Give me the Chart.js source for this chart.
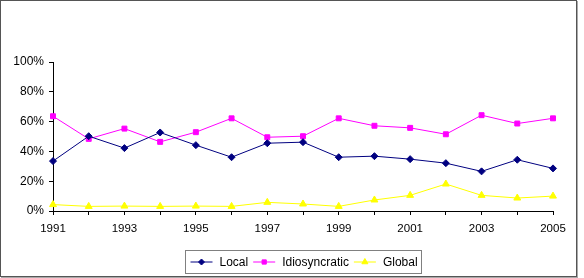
<!DOCTYPE html>
<html lang="en">
<head>
    <meta charset="UTF-8">
    <title>Local, Idiosyncratic and Global shares</title>
    <script src="https://cdn.jsdelivr.net/npm/chart.js"></script>
    <style>
        body {
            margin: 0;
            padding: 0;
            background: #fff;
        }

        .wrap {
            position: relative;
            width: 584px;
            height: 278px;
        }

        .frame {
            position: absolute;
            left: 0;
            top: 0;
            width: 575px;
            height: 275px;
            border: 1px solid #555;
            box-shadow: 1px 1px 0 #aaa;
            pointer-events: none;
        }
    </style>
</head>
<body>
    <div class="wrap">
        <canvas id="chart" width="584" height="278"></canvas>
        <div class="frame"></div>
    </div>

    <script>
        let years = ["1991", "1992", "1993", "1994", "1995", "1996", "1997", "1998",
                     "1999", "2000", "2001", "2002", "2003", "2004", "2005"];

        let local = [33.5, 50.2, 42.2, 52.7, 44.2, 36.1, 45.5, 46.2, 36.1, 36.8, 34.8, 32.1, 26.6, 34.4, 28.6];
        let idiosyncratic = [63.6, 48.4, 55.3, 46.4, 52.9, 62.2, 49.5, 50.2, 62.2, 57.2, 55.8, 51.5, 64.3, 58.7, 62.2];
        let global = [4.3, 3.1, 3.3, 3.1, 3.3, 3.1, 5.8, 4.7, 3.1, 7.4, 10.5, 18.1, 10.5, 8.7, 10.0];

        let yTicks = [0, 20, 40, 60, 80, 100];

        const family = "Arial, 'Liberation Sans', sans-serif";

        // legend with line + marker symbol inside a box, like the original
        const boxLegend = {
            id: 'boxLegend',
            afterDraw(chart) {
                const ctx = chart.ctx;
                const area = chart.chartArea;
                const sets = chart.data.datasets;
                const lineLen = 22, gap = 7, itemGap = 5, padL = 5, padR = 4;
                ctx.save();
                ctx.font = '12px ' + family;
                let widths = sets.map(d => lineLen + gap + ctx.measureText(d.label).width);
                let total = widths.reduce((a, b) => a + b, 0) + itemGap * (sets.length - 1) + padL + padR;
                let x0 = Math.round((area.left + area.right) / 2 - total / 2) + 0.5;
                let y0 = 250.5, h = 23;
                ctx.strokeStyle = '#808080';
                ctx.lineWidth = 1;
                ctx.strokeRect(x0, y0, Math.round(total), h);
                let x = x0 + padL;
                let cy = y0 + h / 2;
                sets.forEach((d, i) => {
                    ctx.strokeStyle = d.borderColor;
                    ctx.fillStyle = d.backgroundColor;
                    ctx.lineWidth = 1;
                    ctx.beginPath();
                    ctx.moveTo(x, cy);
                    ctx.lineTo(x + lineLen, cy);
                    ctx.stroke();
                    Chart.helpers.drawPoint(ctx, {
                        pointStyle: d.pointStyle,
                        radius: d.pointRadius - 0.5,
                        borderWidth: 1
                    }, x + lineLen / 2, cy);
                    ctx.fillStyle = '#000';
                    ctx.textBaseline = 'middle';
                    ctx.textAlign = 'left';
                    ctx.fillText(d.label, x + lineLen + gap, cy + 1);
                    x += widths[i] + itemGap;
                });
                ctx.restore();
            }
        };

        const ctx = document.getElementById('chart').getContext('2d');

        new Chart(ctx, {
            type: 'line',
            data: {
                labels: years,
                datasets: [
                    {
                        label: 'Local',
                        data: local,
                        borderColor: '#000080',
                        backgroundColor: '#000080',
                        pointBorderColor: '#000080',
                        pointBackgroundColor: '#000080',
                        pointStyle: 'rectRot',
                        pointRadius: 3.5,
                        borderWidth: 1
                    },
                    {
                        label: 'Idiosyncratic',
                        data: idiosyncratic,
                        borderColor: '#ff00ff',
                        backgroundColor: '#ff00ff',
                        pointBorderColor: '#ff00ff',
                        pointBackgroundColor: '#ff00ff',
                        pointStyle: 'rect',
                        pointRadius: 3.5,
                        borderWidth: 1
                    },
                    {
                        label: 'Global',
                        data: global,
                        borderColor: '#ffff00',
                        backgroundColor: '#ffff00',
                        pointBorderColor: '#ffff00',
                        pointBackgroundColor: '#ffff00',
                        pointStyle: 'triangle',
                        pointRadius: 4,
                        borderWidth: 1
                    }
                ]
            },
            options: {
                responsive: false,
                animation: false,
                layout: {
                    padding: { left: 0, right: 31, top: 62, bottom: 0 }
                },
                plugins: {
                    legend: { display: false },
                    tooltip: { enabled: false }
                },
                elements: {
                    line: { tension: 0 },
                    point: { borderWidth: 1 }
                },
                scales: {
                    x: {
                        offset: false,
                        afterFit: s => { s.height = 67; },
                        grid: {
                            drawOnChartArea: false,
                            drawTicks: true,
                            tickLength: 4,
                            color: '#000'
                        },
                        border: { display: true, color: '#000' },
                        ticks: {
                            autoSkip: false,
                            maxRotation: 0,
                            padding: 7,
                            color: '#000',
                            font: { family: family, size: 11.5 },
                            callback: function (value, index) {
                                return index % 2 === 0 ? years[index] : '';
                            }
                        }
                    },
                    y: {
                        min: 0,
                        max: 100,
                        afterFit: s => { s.width = 53; },
                        afterBuildTicks: s => { s.ticks = yTicks.map(v => ({ value: v })); },
                        grid: {
                            drawOnChartArea: false,
                            drawTicks: true,
                            tickLength: 4,
                            color: '#000'
                        },
                        border: { display: true, color: '#000' },
                        ticks: {
                            padding: 5,
                            color: '#000',
                            font: { family: family, size: 12 },
                            callback: v => v + '%'
                        }
                    }
                }
            },
            plugins: [boxLegend]
        });
    </script>
</body>
</html>
